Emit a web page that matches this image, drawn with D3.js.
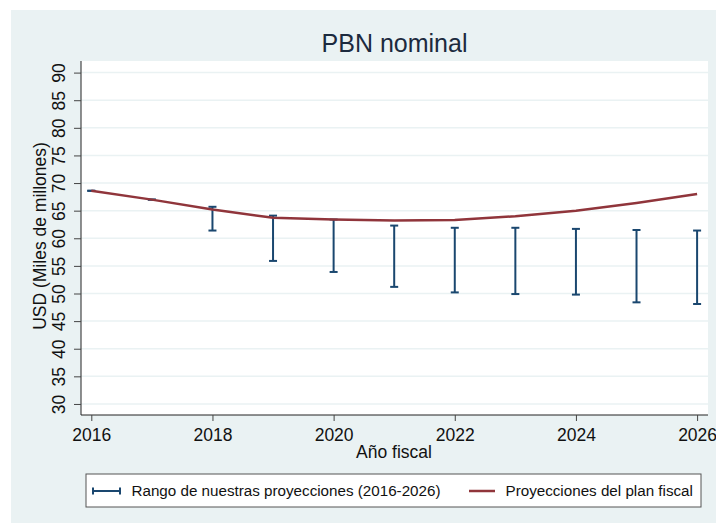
<!DOCTYPE html>
<html>
<head>
<meta charset="utf-8">
<style>
  body { margin: 0; background: #fff; }
  svg { display: block; font-family: "Liberation Sans", Arial, sans-serif; }
  .grid line { stroke: #eaf2f3; stroke-width: 1.5; }
  .tick text { font-size: 17.5px; fill: #111; }
</style>
</head>
<body>
<svg width="716" height="523"></svg>
<script src="https://d3js.org/d3.v7.min.js"></script>
<script>
// data
let years = [2016, 2017, 2018, 2019, 2020, 2021, 2022, 2023, 2024, 2025, 2026]
let planValues = [68.6, 67.0, 65.2, 63.7, 63.4, 63.2, 63.3, 64.0, 65.0, 66.4, 68.0]
let rangeHigh = [68.6, 67.0, 65.7, 64.1, 63.4, 62.3, 61.9, 61.9, 61.7, 61.5, 61.4]
let rangeLow = [68.6, 67.0, 61.4, 55.9, 53.9, 51.2, 50.2, 49.9, 49.8, 48.4, 48.1]
let yTicks = [30, 35, 40, 45, 50, 55, 60, 65, 70, 75, 80, 85, 90]
let xTicks = [2016, 2018, 2020, 2022, 2024, 2026]

let svg = d3.select("svg")
let navy = "#1a476f"
let maroon = "#90353b"

let margin = { top: 61, right: 8, bottom: 108, left: 81 }
let width = 716, height = 523

// outer background
svg.append("rect")
    .attr("x", 11).attr("y", 10)
    .attr("width", width - 11).attr("height", height - 10)
    .attr("fill", "#eaf2f3")

let x = d3.scaleLinear().domain([2015.83, 2026.18]).range([margin.left, width - margin.right])
let y = d3.scaleLinear().domain([28, 92.1]).range([height - margin.bottom, margin.top])

// plot region
svg.append("rect")
    .attr("x", margin.left).attr("y", margin.top)
    .attr("width", x.range()[1] - margin.left)
    .attr("height", y.range()[0] - margin.top)
    .attr("fill", "#fff")

// gridlines
svg.append("g")
    .attr("class", "grid")
    .selectAll("line")
    .data(yTicks)
    .join("line")
    .attr("x1", margin.left).attr("x2", x.range()[1])
    .attr("y1", d => y(d)).attr("y2", d => y(d))

// y axis
let yAxis = svg.append("g")
    .attr("transform", `translate(${margin.left},0)`)
    .call(d3.axisLeft(y).tickValues(yTicks).tickSize(7).tickPadding(0))
yAxis.select(".domain").attr("stroke", "#222").attr("d", `M0,${margin.top}V${y.range()[0]}`)
yAxis.selectAll(".tick line").attr("stroke", "#444")
yAxis.selectAll(".tick text")
    .attr("x", null).attr("dy", null)
    .attr("text-anchor", "middle")
    .attr("transform", "translate(-16,0) rotate(-90)")

// x axis
let xAxis = svg.append("g")
    .attr("transform", `translate(0,${y.range()[0]})`)
    .call(d3.axisBottom(x).tickValues(xTicks).tickFormat(d3.format("d")).tickSize(6).tickPadding(8))
xAxis.select(".domain").attr("stroke", "#222").attr("d", `M${margin.left},0H${x.range()[1]}`)
xAxis.selectAll(".tick line").attr("stroke", "#444")

// range caps
let caps = svg.append("g").attr("stroke", navy).attr("stroke-width", 2).attr("fill", "none")
years.forEach((yr, i) => {
    let cx = x(yr)
    caps.append("line").attr("x1", cx).attr("x2", cx).attr("y1", y(rangeHigh[i])).attr("y2", y(rangeLow[i]))
    caps.append("line").attr("x1", cx - 4).attr("x2", cx + 4).attr("y1", y(rangeHigh[i])).attr("y2", y(rangeHigh[i]))
    caps.append("line").attr("x1", cx - 4).attr("x2", cx + 4).attr("y1", y(rangeLow[i])).attr("y2", y(rangeLow[i]))
})

// fiscal plan line
let line = d3.line().x((d, i) => x(years[i])).y(d => y(d))
svg.append("path")
    .datum(planValues)
    .attr("fill", "none")
    .attr("stroke", maroon)
    .attr("stroke-width", 2.5)
    .attr("d", line)

// title and axis titles
svg.append("text")
    .attr("x", 394.5).attr("y", 51.5)
    .attr("text-anchor", "middle")
    .attr("font-size", 25)
    .attr("fill", "#1c2a3e")
    .text("PBN nominal")

svg.append("text")
    .attr("transform", "translate(46,236) rotate(-90)")
    .attr("text-anchor", "middle")
    .attr("font-size", 17.5)
    .attr("fill", "#111")
    .text("USD (Miles de millones)")

svg.append("text")
    .attr("x", 394).attr("y", 458)
    .attr("text-anchor", "middle")
    .attr("font-size", 17.5)
    .attr("fill", "#111")
    .text("Año fiscal")

// legend
let legend = svg.append("g")
legend.append("rect")
    .attr("x", 86).attr("y", 474).attr("width", 615).attr("height", 33)
    .attr("fill", "#fff").attr("stroke", "#555").attr("stroke-width", 1)

legend.append("path")
    .attr("d", "M93,491H120M93,487.5V494.5M120,487.5V494.5")
    .attr("stroke", navy).attr("stroke-width", 2).attr("fill", "none")
legend.append("text")
    .attr("x", 131.5).attr("y", 496)
    .attr("font-size", 15.2).attr("fill", "#111")
    .text("Rango de nuestras proyecciones (2016-2026)")

legend.append("line")
    .attr("x1", 469).attr("x2", 495).attr("y1", 491).attr("y2", 491)
    .attr("stroke", maroon).attr("stroke-width", 2.5)
legend.append("text")
    .attr("x", 505.5).attr("y", 496)
    .attr("font-size", 15.2).attr("fill", "#111")
    .text("Proyecciones del plan fiscal")
</script>
</body>
</html>
